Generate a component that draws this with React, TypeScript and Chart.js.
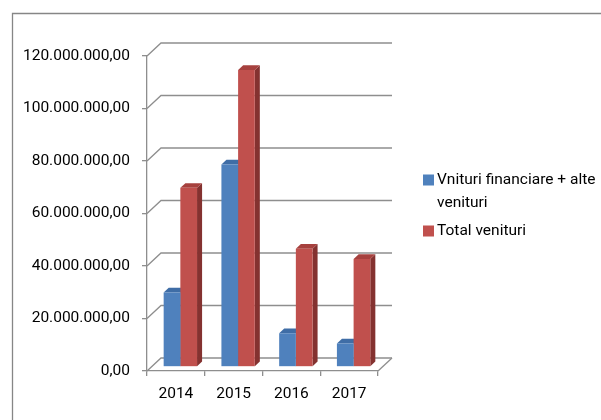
import React, { useEffect, useRef } from "react";
import { Chart, registerables } from "chart.js";

Chart.register(...registerables);

// ---- data ----
const categories = ["2014", "2015", "2016", "2017"];
const seriesNames = ["Vnituri financiare + alte venituri", "Total venituri"];
const legendLines = [["Vnituri financiare + alte", "venituri"], ["Total venituri"]];
const financialValues = [28.3e6, 77.1e6, 12.8e6, 8.9e6];
const totalValues = [68.2e6, 113.1e6, 45.0e6, 41.1e6];
const yTicks = [0, 20e6, 40e6, 60e6, 80e6, 100e6, 120e6];

// ---- styles ----
const FONT = "Roboto";
const FONT_SIZE = 15.5;
const TEXT = "#000000";
const GRID = "#8e8e8e";
const FRONT_COLORS = ["#4F81BD", "#C0504D"];
const TOP_COLORS = ["#3F6DA6", "#A6413E"];
const SIDE_COLORS = ["#365E90", "#843230"];
const DX = 14;
const DY = -13;
const FRONT_F = 0.32;
const DEPTH_F = 0.36;

function fmt(v: number): string {
  const s = Math.round(v).toString();
  return s.replace(/\B(?=(\d{3})+(?!\d))/g, ".") + ",00";
}

const threeD = {
  id: "threeD",
  beforeDraw(chart: any) {
    const { ctx, width, height } = chart;
    ctx.save();
    ctx.fillStyle = "#ffffff";
    ctx.fillRect(0, 0, width, height);
    ctx.strokeStyle = "#868686";
    ctx.lineWidth = 1.3;
    ctx.beginPath();
    ctx.moveTo(12.5, height + 2);
    ctx.lineTo(12.5, 13.5);
    ctx.lineTo(width + 2, 13.5);
    ctx.stroke();
    ctx.restore();
  },
  beforeDatasetsDraw(chart: any) {
    const { ctx, chartArea } = chart;
    const { left, right, bottom } = chartArea;
    const ys = chart.scales.y;
    ctx.save();
    ctx.strokeStyle = GRID;
    ctx.lineWidth = 1.3;
    for (const t of ys.ticks) {
      const yy = ys.getPixelForValue(t.value);
      ctx.beginPath();
      ctx.moveTo(left, yy);
      ctx.lineTo(left + DX, yy + DY);
      ctx.lineTo(right + DX, yy + DY);
      ctx.stroke();
    }
    ctx.beginPath();
    ctx.moveTo(right, bottom);
    ctx.lineTo(right + DX, bottom + DY);
    ctx.stroke();
    ctx.restore();

    ctx.save();
    ctx.translate(DX * FRONT_F, DY * FRONT_F);
    const ddx = DX * DEPTH_F;
    const ddy = DY * DEPTH_F;
    chart.data.datasets.forEach((_ds: any, i: number) => {
      const meta = chart.getDatasetMeta(i);
      meta.data.forEach((bar: any) => {
        const { x, y, base, width } = bar.getProps(["x", "y", "base", "width"], true);
        const x0 = x - width / 2;
        const x1 = x + width / 2;
        ctx.fillStyle = SIDE_COLORS[i];
        ctx.beginPath();
        ctx.moveTo(x1, y);
        ctx.lineTo(x1 + ddx, y + ddy);
        ctx.lineTo(x1 + ddx, base + ddy);
        ctx.lineTo(x1, base);
        ctx.closePath();
        ctx.fill();
        ctx.fillStyle = TOP_COLORS[i];
        ctx.beginPath();
        ctx.moveTo(x0, y);
        ctx.lineTo(x0 + ddx, y + ddy);
        ctx.lineTo(x1 + ddx, y + ddy);
        ctx.lineTo(x1, y);
        ctx.closePath();
        ctx.fill();
      });
    });
  },
  afterDatasetsDraw(chart: any) {
    chart.ctx.restore();
  },
  afterDraw(chart: any) {
    const { ctx } = chart;
    ctx.save();
    ctx.font = `${FONT_SIZE}px ${FONT}`;
    ctx.textBaseline = "middle";
    ctx.textAlign = "left";
    const lineH = 23.5;
    let y = 180;
    legendLines.forEach((lines, i) => {
      ctx.fillStyle = FRONT_COLORS[i];
      ctx.fillRect(423, y - 5.5, 11, 11);
      ctx.fillStyle = TEXT;
      lines.forEach((ln, j) => {
        ctx.fillText(ln, 437, y + j * lineH);
      });
      y += lines.length * lineH + 4;
    });
    ctx.restore();
  },
};

export default function App() {
  const ref = useRef<HTMLCanvasElement | null>(null);
  useEffect(() => {
    if (!ref.current) return;
    const chart = new Chart(ref.current, {
      type: "bar",
      data: {
        labels: categories,
        datasets: [
          {
            label: seriesNames[0],
            data: financialValues,
            backgroundColor: FRONT_COLORS[0],
            borderWidth: 0,
            categoryPercentage: 0.578,
            barPercentage: 1,
          },
          {
            label: seriesNames[1],
            data: totalValues,
            backgroundColor: FRONT_COLORS[1],
            borderWidth: 0,
            categoryPercentage: 0.578,
            barPercentage: 1,
          },
        ],
      },
      options: {
        responsive: false,
        animation: false,
        devicePixelRatio: 1,
        layout: { padding: { left: 0, top: 56, right: 223, bottom: 0 } },
        plugins: {
          legend: { display: false },
          tooltip: { enabled: false },
        },
        scales: {
          x: {
            type: "category",
            offset: true,
            grid: {
              display: true,
              drawOnChartArea: false,
              offset: true,
              tickLength: 5,
              color: GRID,
              lineWidth: 1.3,
            },
            border: { display: true, color: GRID, width: 1.3 },
            ticks: {
              font: { family: FONT, size: FONT_SIZE },
              color: TEXT,
              padding: 9,
            },
            afterFit(s: any) {
              s.height = 49;
            },
          },
          y: {
            min: 0,
            max: 120e6,
            afterBuildTicks(s: any) {
              s.ticks = yTicks.map((v) => ({ value: v }));
            },
            grid: {
              display: true,
              drawOnChartArea: false,
              tickLength: 5,
              color: GRID,
              lineWidth: 1.3,
            },
            border: { display: true, color: GRID, width: 1.3 },
            ticks: {
              callback: (v: any) => fmt(Number(v)),
              font: { family: FONT, size: FONT_SIZE },
              color: TEXT,
              padding: 12,
            },
            afterFit(s: any) {
              s.width = 147;
            },
          },
        },
      },
      plugins: [threeD],
    });
    return () => chart.destroy();
  }, []);
  return (
    <div style={{ position: "absolute", left: 0, top: 0, width: 601, height: 420 }}>
      <canvas ref={ref} width={601} height={420} style={{ display: "block" }} />
    </div>
  );
}
